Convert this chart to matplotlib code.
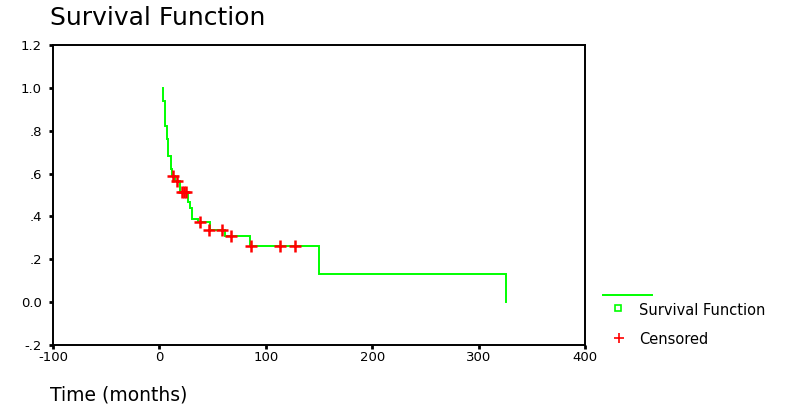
import matplotlib
matplotlib.use('Agg')
import matplotlib.pyplot as plt
from matplotlib.lines import Line2D

# Kaplan-Meier steps: (time, survival after the drop)
step_times = [3.7, 5.3, 6.9, 8.4, 10.7, 12.2, 14.8, 19.4, 26.6, 28.8, 30.3, 36.5, 47.5, 61.4, 85.2, 150.0, 325.6]
step_surv = [0.94, 0.82, 0.76, 0.68, 0.62, 0.59, 0.565, 0.515, 0.468, 0.439, 0.39, 0.375, 0.336, 0.31, 0.261, 0.131, 0.0]

# censored observations
cens_times = [13.0, 16.8, 21.0, 23.0, 25.0, 38.5, 47.0, 58.5, 67.0, 86.0, 113.0, 127.0]
cens_surv = [0.59, 0.565, 0.515, 0.515, 0.515, 0.375, 0.336, 0.336, 0.31, 0.261, 0.261, 0.261]

xticks = [-100, 0, 100, 200, 300, 400]
yticks = [-0.2, 0.0, 0.2, 0.4, 0.6, 0.8, 1.0, 1.2]
ytick_labels = ['-.2', '0.0', '.2', '.4', '.6', '.8', '1.0', '1.2']

plt.rcParams['font.family'] = ['DejaVu Sans']
plt.rcParams['axes.unicode_minus'] = False

fig = plt.figure(figsize=(7.96, 4.11), dpi=100)
ax = fig.add_axes([0.0666, 0.1606, 0.6684, 0.7299])

# build step path
xs = [step_times[0]]
ys = [1.0]
prev = 1.0
for t, s in zip(step_times, step_surv):
    xs += [t, t]
    ys += [prev, s]
    prev = s
ax.plot(xs, ys, color='#00ff00', lw=1.4, solid_joinstyle='miter')
ax.plot(cens_times, cens_surv, ls='none', marker='+', color='red', ms=9, mew=1.8)

ax.set_xlim(-100, 400)
ax.set_ylim(-0.2, 1.2)
ax.set_xticks(xticks)
ax.set_yticks(yticks)
ax.set_yticklabels(ytick_labels)
ax.tick_params(direction='out', length=3, width=2, labelsize=9.5)
ax.tick_params(axis='x', pad=1.5)
ax.tick_params(axis='y', pad=5)
for sp in ax.spines.values():
    sp.set_linewidth(1.4)

fig.text(0.063, 0.956, 'Survival Function', fontsize=18, va='center', ha='left')
fig.text(0.063, 0.039, 'Time (months)', fontsize=13.5, va='center', ha='left')

# legend drawn by hand
fig.add_artist(Line2D([0.758, 0.819], [0.282, 0.282], color='#00ff00', lw=1.4))
fig.add_artist(Line2D([0.776], [0.25], ls='none', marker='s', ms=5, mfc='none', mec='#00ff00', mew=1.2))
fig.add_artist(Line2D([0.778], [0.178], ls='none', marker='+', ms=7, color='red', mew=1.2))
fig.text(0.803, 0.244, 'Survival Function', fontsize=10.5, va='center', ha='left')
fig.text(0.803, 0.173, 'Censored', fontsize=10.5, va='center', ha='left')

fig.savefig('out.png', dpi=100)
